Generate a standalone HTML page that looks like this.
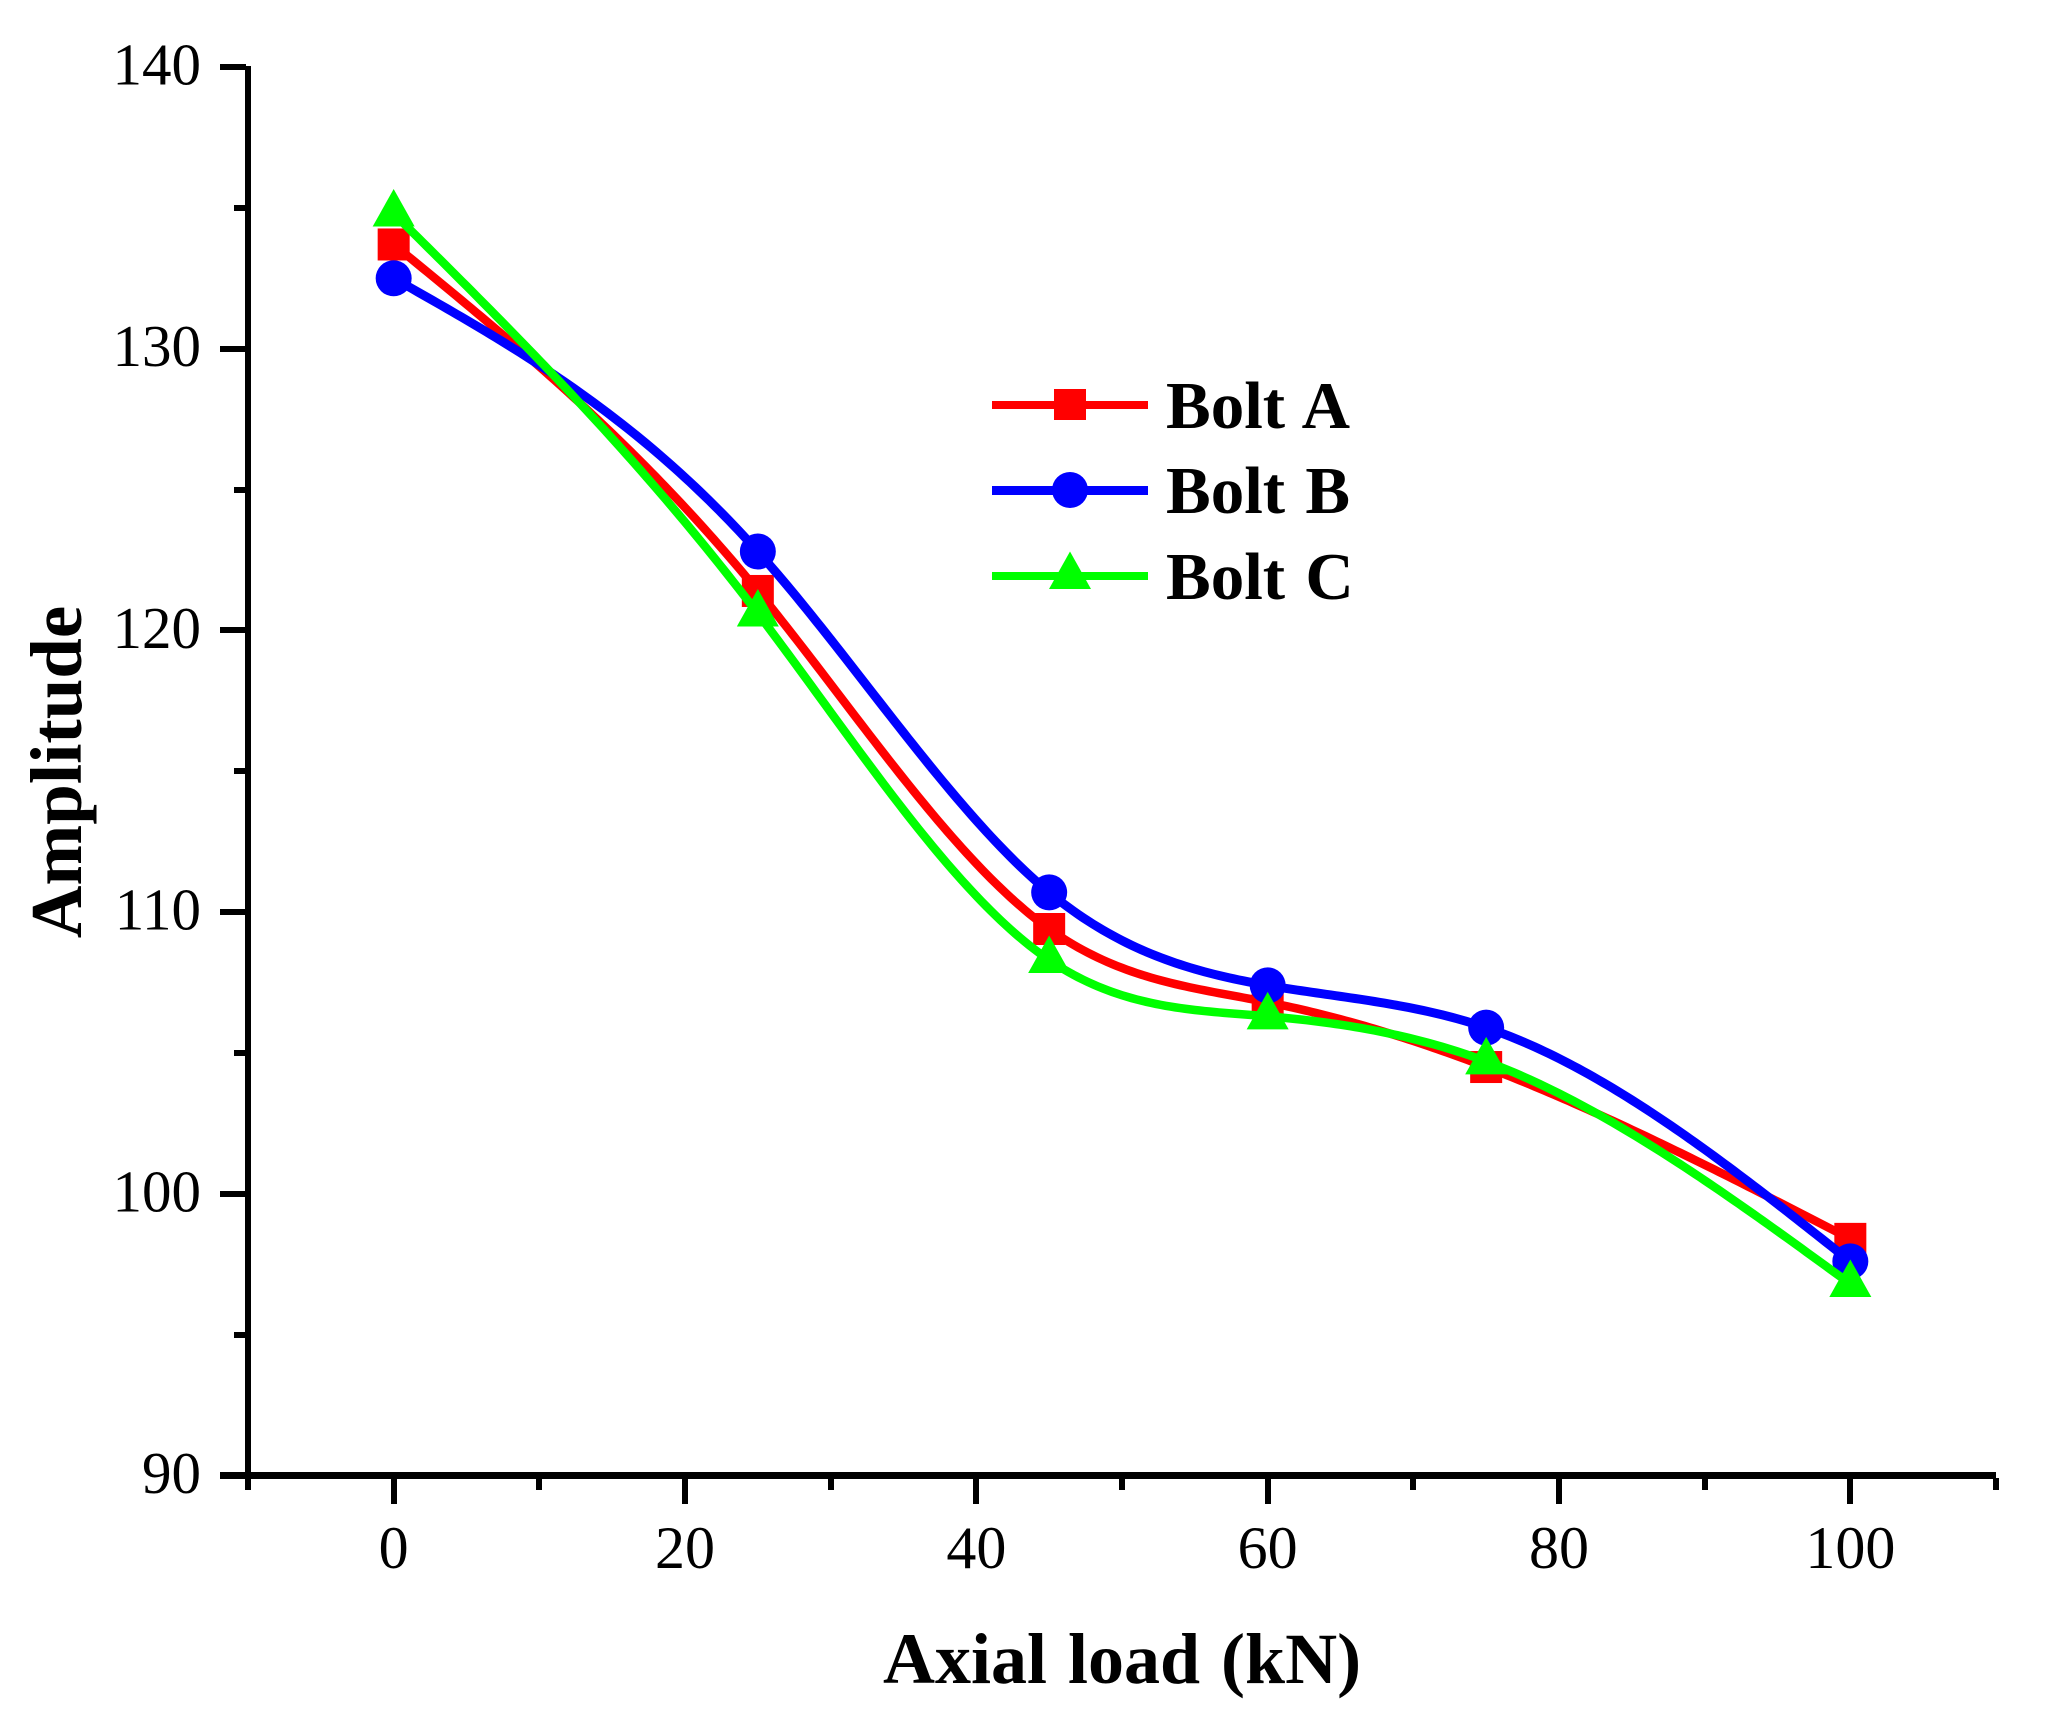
<!DOCTYPE html>
<html lang="en">
<head>
<meta charset="utf-8">
<title>Amplitude vs axial load</title>
<style>
html,body{margin:0;padding:0;background:#fff;}
body{width:2063px;height:1717px;overflow:hidden;}
svg{display:block;}
text{font-family:"Liberation Serif","Times New Roman",serif;fill:#000;}
.tick{font-size:60px;}
.ytick{font-size:59px;}
.title{font-size:72px;font-weight:bold;}
.leg{font-size:67px;font-weight:bold;word-spacing:3.5px;}
</style>
</head>
<body>
<svg id="chart" xmlns="http://www.w3.org/2000/svg" width="2063" height="1717" viewBox="0 0 2063 1717">
  <rect x="0" y="0" width="2063" height="1717" fill="#fff"/>
  <g id="axes" shape-rendering="crispEdges"></g>
  <g id="tick-labels"></g>
  <text class="title" style="font-size:73px" transform="translate(81,772) rotate(-90)" text-anchor="middle">Amplitude</text>
  <text class="title" style="word-spacing:3px" x="883" y="1683">Axial load (kN)</text>
  <g id="series"></g>
  <g id="legend">
    <g>
      <rect x="992" y="401" width="156" height="8" fill="#ff0000"/>
      <rect x="1054" y="389" width="32" height="31" fill="#ff0000"/>
      <text class="leg" x="1166" y="428">Bolt A</text>
    </g>
    <g>
      <rect x="992" y="486" width="156" height="9" fill="#0000ff"/>
      <circle cx="1070" cy="490" r="18" fill="#0000ff"/>
      <text class="leg" x="1166" y="513">Bolt B</text>
    </g>
    <g>
      <rect x="992" y="572" width="156" height="8" fill="#00ff00"/>
      <polygon points="1070,551.5 1091,589 1049,589" fill="#00ff00"/>
      <text class="leg" x="1166" y="599">Bolt C</text>
    </g>
  </g>
</svg>
<script>
const loads = [0, 25, 45, 60, 75, 100];
const boltA = [133.7, 121.4, 109.4, 106.8, 104.5, 98.4];
const boltB = [132.5, 122.8, 110.7, 107.4, 105.9, 97.6];
const boltC = [134.8, 120.6, 108.3, 106.3, 104.7, 96.8];
const xTickLabels = ['0', '20', '40', '60', '80', '100'];
const xMinorTicks = [-10, 10, 30, 50, 70, 90, 110];
const yTickLabels = ['90', '100', '110', '120', '130', '140'];
const yMinorTicks = [95, 105, 115, 125, 135];

const NS = 'http://www.w3.org/2000/svg';
const X_MIN = -10, X_MAX = 110, X_LEFT = 248, X_RIGHT = 1996;
const Y_MIN = 90, Y_MAX = 140, Y_BOTTOM = 1475.5, Y_TOP = 67;
function xScale(v) { return X_LEFT + (v - X_MIN) * (X_RIGHT - X_LEFT) / (X_MAX - X_MIN); }
function yScale(v) { return Y_BOTTOM - (v - Y_MIN) * (Y_BOTTOM - Y_TOP) / (Y_MAX - Y_MIN); }

function make(tag, attrs, parent) {
  const el = document.createElementNS(NS, tag);
  for (const k in attrs) el.setAttribute(k, attrs[k]);
  parent.appendChild(el);
  return el;
}

const axes = document.getElementById('axes');
const labelsG = document.getElementById('tick-labels');

const yAxisLine = make('rect', {x: 245, y: 66, width: 6, height: 1413, fill: '#000'}, axes);


const xAxisLine = make('rect', {x: 220, y: 1472, width: 1776, height: 7, fill: '#000'}, axes);



yTickLabels.forEach(function (lab) {
  const y = yScale(Number(lab));
  const tick = make('rect', {x: 220, y: Math.round(y - 3), width: 26, height: 6, fill: '#000'}, axes);
  
  
  const t = make('text', {class: 'ytick', x: 201, y: y + 17.5, 'text-anchor': 'end'}, labelsG);
  t.textContent = lab;
  
  
});
yMinorTicks.forEach(function (v) {
  const tick = make('rect', {x: 234, y: Math.round(yScale(v) - 3), width: 12, height: 6, fill: '#000'}, axes);
  
  
});
xTickLabels.forEach(function (lab) {
  const x = xScale(Number(lab));
  const tick = make('rect', {x: Math.round(x - 3), y: 1478, width: 6, height: 26, fill: '#000'}, axes);
  
  
  const t = make('text', {class: 'tick', x: x, y: 1568, 'text-anchor': 'middle'}, labelsG);
  t.textContent = lab;
  
  
});
xMinorTicks.forEach(function (v) {
  const tick = make('rect', {x: Math.round(xScale(v) - 3), y: 1478, width: 6, height: 12, fill: '#000'}, axes);
  
  
});

// Natural cubic spline through the data, returned as an evaluator.
function spline(xs, ys) {
  const n = xs.length, m = new Array(n).fill(0), u = new Array(n).fill(0);
  for (let i = 1; i < n - 1; i++) {
    const sig = (xs[i] - xs[i - 1]) / (xs[i + 1] - xs[i - 1]);
    const p = sig * m[i - 1] + 2;
    m[i] = (sig - 1) / p;
    const d = (ys[i + 1] - ys[i]) / (xs[i + 1] - xs[i]) - (ys[i] - ys[i - 1]) / (xs[i] - xs[i - 1]);
    u[i] = (6 * d / (xs[i + 1] - xs[i - 1]) - sig * u[i - 1]) / p;
  }
  for (let k = n - 2; k >= 0; k--) m[k] = m[k] * m[k + 1] + u[k];
  return function (x) {
    let i = 0;
    while (i < n - 2 && x > xs[i + 1]) i++;
    const h = xs[i + 1] - xs[i], a = (xs[i + 1] - x) / h, b = (x - xs[i]) / h;
    return a * ys[i] + b * ys[i + 1] + ((a * a * a - a) * m[i] + (b * b * b - b) * m[i + 1]) * h * h / 6;
  };
}

function curvePath(ys) {
  const f = spline(loads, ys);
  const first = loads[0], last = loads[loads.length - 1];
  const steps = 300;
  let d = '';
  for (let i = 0; i <= steps; i++) {
    const v = first + (last - first) * i / steps;
    d += (i ? 'L' : 'M') + xScale(v).toFixed(2) + ' ' + yScale(f(v)).toFixed(2);
  }
  return d;
}

const seriesG = document.getElementById('series');

const groupA = make('g', {}, seriesG);


const lineA = make('path', {d: curvePath(boltA), fill: 'none', stroke: '#ff0000', 'stroke-width': 8.5}, groupA);


boltA.forEach(function (v, i) {
  const mk = make('rect', {x: xScale(loads[i]) - 16, y: yScale(v) - 16, width: 32, height: 32, fill: '#ff0000'}, groupA);
  
  
});

const groupB = make('g', {}, seriesG);


const lineB = make('path', {d: curvePath(boltB), fill: 'none', stroke: '#0000ff', 'stroke-width': 9}, groupB);


boltB.forEach(function (v, i) {
  const mk = make('circle', {cx: xScale(loads[i]), cy: yScale(v), r: 18, fill: '#0000ff'}, groupB);
  
  
});

const groupC = make('g', {}, seriesG);


const lineC = make('path', {d: curvePath(boltC), fill: 'none', stroke: '#00ff00', 'stroke-width': 8.5}, groupC);


boltC.forEach(function (v, i) {
  const cx = xScale(loads[i]), cy = yScale(v);
  const pts = cx + ',' + (cy - 24.5) + ' ' + (cx + 21) + ',' + (cy + 13) + ' ' + (cx - 21) + ',' + (cy + 13);
  const mk = make('polygon', {points: pts, fill: '#00ff00'}, groupC);
  
  
});
</script>
</body>
</html>
